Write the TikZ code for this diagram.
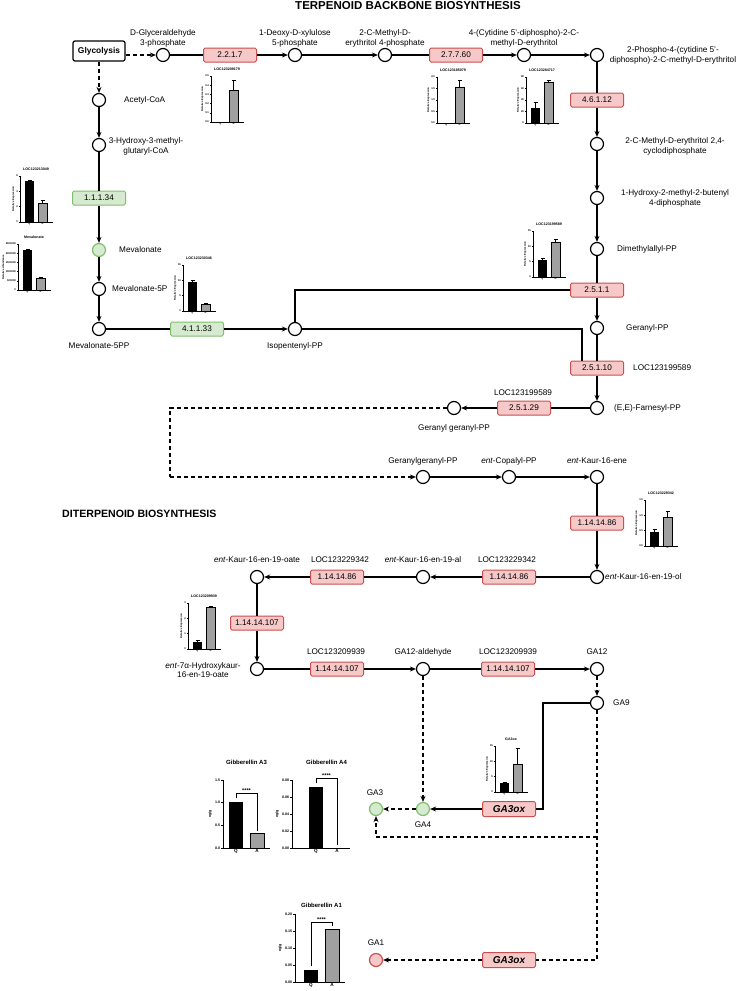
\documentclass[tikz,border=0pt]{standalone}
\usepackage{fontspec}
\setmainfont{Liberation Sans}
\usetikzlibrary{arrows.meta,positioning}
\definecolor{ecfill}{RGB}{246,200,200}
\definecolor{ecdraw}{RGB}{200,80,80}
\definecolor{gfill}{RGB}{214,234,208}
\definecolor{gdraw}{RGB}{130,190,110}
\definecolor{bargray}{RGB}{160,160,160}
\newcommand{\lbfont}{\fontsize{8.2}{9.8}\selectfont}
% small expression chart: x, y (axis origin), title, Q, Q err, A, A err, ticks, y label
\newcommand{\expchart}[9]{%
  \begin{scope}[shift={(#1,#2)}]
    \node[charttitle] at (16,-53) {#3};
    \fill (5,0) rectangle (14,{-46*#4});
    \draw[line width=.4pt] (9.5,{-46*#4}) -- (9.5,{-46*(#4+#5)}) ++(-2,0) -- ++(4,0);
    \filldraw[fill=bargray, line width=.6pt] (18,0) rectangle (27,{-46*#6});
    \draw[line width=.4pt] (22.5,{-46*#6}) -- (22.5,{-46*(#6+#7)}) ++(-2,0) -- ++(4,0);
    \draw[line width=.6pt] (0,-46) -- (0,0) -- (33,0);
    \foreach \f/\t in {#8}
      \draw[line width=.4pt] (0,{-46*\f}) -- (-1.5,{-46*\f}) node[ticklbl, left] (tk) {\t};
    \path (tk.west) ++(-0.5,0) coordinate (yl);
    \node[ticklbl, rotate=90, anchor=south] at (yl |- 0,-23) {#9};
    \node[ticklbl, below] at (9.5,0.3) {Q};
    \node[ticklbl, below] at (22.5,0.3) {A};
  \end{scope}}
% hormone chart: x, y, title, Q, A, bracket, ticks, title gap, bar offset
\newcommand{\gachart}[9]{%
  \begin{scope}[shift={(#1,#2)}]
    \node[gatitle] at ({#9+17.5},{-68-#8}) {#3};
    \fill (#9,0) rectangle ({#9+14},{-68*#4});
    \filldraw[fill=bargray, line width=.8pt] ({#9+21},0) rectangle ({#9+35},{-68*#5});
    \draw[line width=.7pt] ({#9+7},{-68*(#4+0.05)}) -- ({#9+7},{-68*#6}) -- ({#9+28},{-68*#6}) -- ({#9+28},{-68*(#5+0.04)});
    \node[gastars, anchor=south] at ({#9+17.5},{-68*#6}) {****};
    \draw[line width=.9pt] (0,-68) -- (0,0) -- ({#9+41},0);
    \foreach \f/\t in {#7}
      \draw[line width=.6pt] (0,{-68*\f}) -- (-2,{-68*\f}) node[gatick, left] (tk) {\t};
    \path (tk.west) ++(-1.5,0) coordinate (yl);
    \node[gatick, rotate=90, anchor=south] at (yl |- 0,-34) {ng/g};
    \node[gaq, below] at ({#9+7},0.5) {Q};
    \node[gaq, below] at ({#9+28},0.5) {A};
  \end{scope}}
\begin{document}
\begin{tikzpicture}[x=1pt, y=-1pt,
  met/.style={circle, draw, line width=1.2pt, minimum size=13pt, inner sep=0pt, fill=white},
  metg/.style={met, draw=gdraw, fill=gfill},
  metr/.style={met, draw=ecdraw, fill=ecfill},
  ec/.style={draw=ecdraw, fill=ecfill, line width=1pt, rounded corners=1.5pt, minimum width=53pt, minimum height=14pt, inner sep=1pt, font=\lbfont},
  ecg/.style={ec, draw=gdraw, fill=gfill},
  gene/.style={ec, minimum height=15pt, font=\fontsize{10}{12}\selectfont\bfseries\itshape},
  lbl/.style={font=\lbfont, inner sep=1pt, align=center},
  heading/.style={font=\fontsize{11.5}{13}\selectfont\bfseries, inner sep=0pt},
  flow/.style={line width=1.1pt, -{Stealth[length=6pt,width=5pt]}},
  link/.style={line width=1.1pt},
  dflow/.style={flow, dash pattern=on 4pt off 3pt},
  dlink/.style={link, dash pattern=on 4pt off 3pt},
  charttitle/.style={font=\fontsize{3.6}{4}\selectfont\bfseries, inner sep=0pt},
  ticklbl/.style={font=\fontsize{2.6}{3}\selectfont\bfseries, inner sep=0.4pt},
  gatitle/.style={font=\fontsize{6}{7}\selectfont\bfseries, inner sep=0pt},
  gatick/.style={font=\fontsize{3.6}{4}\selectfont\bfseries, inner sep=0.6pt},
  gaq/.style={font=\fontsize{4.6}{5}\selectfont\bfseries, inner sep=0.6pt},
  gastars/.style={font=\fontsize{5.5}{6}\selectfont\bfseries, inner sep=0.5pt}]
\useasboundingbox (0,0) rectangle (740,991);
\fill[white] (0,0) rectangle (740,991);

\node[heading] (ttop) at (408,6) {TERPENOID BACKBONE BIOSYNTHESIS};
\node[heading, font=\fontsize{10.6}{12}\selectfont\bfseries, anchor=west] (tdit) at (62,514) {DITERPENOID BIOSYNTHESIS};

% backbone, top row
\node[draw, line width=1.2pt, rounded corners=2pt, minimum width=52pt, minimum height=20pt,
  font=\fontsize{8.4}{10}\selectfont\bfseries] (glyc) at (99,51) {Glycolysis};
\node[met] (g3p) at (163,55) {};
\node[met] (dxp) at (295,55) {};
\node[met] (mep) at (385,55) {};
\node[met] (cdpme) at (524,55) {};
\node[met] (cdpmep) at (597,55) {};
\node[met] (mecpp) at (597,144) {};
\node[met] (hmbpp) at (597,198) {};
\node[met] (dmapp) at (597,249) {};
\node[met] (gpp) at (597,328) {};
\node[met] (fpp) at (597,408) {};
\node[met] (ggpp) at (454,408) {};
\node[ec] (e2217) at (230,55) {2.2.1.7};
\node[ec] (e27760) at (456,55) {2.7.7.60};
\node[ec] (e46112) at (597,100) {4.6.1.12};
\node[ec] (e2511) at (597,290) {2.5.1.1};
\node[ec] (e25110) at (597,368) {2.5.1.10};
\node[ec] (e25129) at (524,408) {2.5.1.29};

% mevalonate branch
\node[met] (acoa) at (99,100) {};
\node[met] (hmgcoa) at (99,145) {};
\node[ecg] (e111434) at (99,198) {1.1.1.34};
\node[metg] (mva) at (99,250) {};
\node[met] (mvap) at (99,289) {};
\node[met] (mvapp) at (99,329) {};
\node[ecg] (e41133) at (197,329) {4.1.1.33};
\node[met] (ipp) at (295,329) {};

% diterpenoid part
\node[met] (ggpp2) at (423,477) {};
\node[met] (cpp) at (509,477) {};
\node[met] (kaurene) at (597,477) {};
\node[ec] (e1141486a) at (597,523) {1.14.14.86};
\node[met] (kaurenol) at (597,577) {};
\node[ec] (e1141486b) at (509,577) {1.14.14.86};
\node[met] (kaurenal) at (423,577) {};
\node[ec] (e1141486c) at (337,577) {1.14.14.86};
\node[met] (kaurenoate) at (257,577) {};
\node[ec] (e11414107a) at (257,623) {1.14.14.107};
\node[met] (hkaurenoate) at (257,669) {};
\node[ec] (e11414107b) at (337,669) {1.14.14.107};
\node[met] (ga12ald) at (423,669) {};
\node[ec] (e11414107c) at (508,669) {1.14.14.107};
\node[met] (ga12) at (597,669) {};
\node[met] (ga9) at (597,703) {};
\node[gene] (ga3oxa) at (509,809) {GA3ox};
\node[metg] (ga4) at (423,809) {};
\node[metg] (ga3) at (376,809) {};
\node[gene] (ga3oxb) at (509,960) {GA3ox};
\node[metr] (ga1) at (376,960) {};
\coordinate (gg1) at (170,408);
\coordinate (gg2) at (170,477);
\coordinate (k1) at (543,703);
\coordinate (k2) at (597,837);

% connectors
\draw[dflow] (glyc.east |- g3p) -- (g3p);
\draw[dflow] (glyc) -- (acoa);
\draw[link] (g3p) -- (e2217);
\draw[flow] (e2217) -- (dxp);
\draw[flow] (dxp) -- (mep);
\draw[link] (mep) -- (e27760);
\draw[flow] (e27760) -- (cdpme);
\draw[flow] (cdpme) -- (cdpmep);
\draw[link] (cdpmep) -- (e46112);
\draw[flow] (e46112) -- (mecpp);
\draw[flow] (mecpp) -- (hmbpp);
\draw[flow] (hmbpp) -- (dmapp);
\draw[link] (dmapp) -- (e2511);
\draw[flow] (e2511) -- (gpp);
\draw[link] (gpp) -- (e25110);
\draw[flow] (e25110) -- (fpp);
\draw[link] (fpp) -- (e25129);
\draw[flow] (e25129) -- (ggpp);
\draw[flow] (acoa) -- (hmgcoa);
\draw[link] (hmgcoa) -- (e111434);
\draw[flow] (e111434) -- (mva);
\draw[flow] (mva) -- (mvap);
\draw[flow] (mvap) -- (mvapp);
\draw[link] (mvapp) -- (e41133);
\draw[flow] (e41133) -- (ipp);
\draw[link] (ipp) |- (e2511);
\draw[link] (ipp) -| ([xshift=-15pt]e25110.north);
\draw[dlink] (ggpp) -- (gg1) -- (gg2);
\draw[dflow] (gg2) -- (ggpp2);
\draw[flow] (ggpp2) -- (cpp);
\draw[flow] (cpp) -- (kaurene);
\draw[link] (kaurene) -- (e1141486a);
\draw[flow] (e1141486a) -- (kaurenol);
\draw[link] (kaurenol) -- (e1141486b);
\draw[flow] (e1141486b) -- (kaurenal);
\draw[link] (kaurenal) -- (e1141486c);
\draw[flow] (e1141486c) -- (kaurenoate);
\draw[link] (kaurenoate) -- (e11414107a);
\draw[flow] (e11414107a) -- (hkaurenoate);
\draw[link] (hkaurenoate) -- (e11414107b);
\draw[flow] (e11414107b) -- (ga12ald);
\draw[link] (ga12ald) -- (e11414107c);
\draw[flow] (e11414107c) -- (ga12);
\draw[dflow] (ga12) -- (ga9);
\draw[dflow] (ga12ald) -- (ga4);
\draw[link] (ga9) -- (k1) |- (ga3oxa.east);
\draw[flow] (ga3oxa) -- (ga4);
\draw[dflow] (ga4) -- (ga3);
\draw[dlink] (ga9) |- (ga3oxb.east);
\draw[dflow] (k2) -| (ga3);
\draw[dflow] (ga3oxb) -- (ga1);

% metabolite names
\node[lbl, above=0pt of g3p] (tg3p) {D-Glyceraldehyde\\3-phosphate};
\node[lbl, above=0pt of dxp] (tdxp) {1-Deoxy-D-xylulose\\5-phosphate};
\node[lbl, above=0pt of mep] (tmep) {2-C-Methyl-D-\\erythritol 4-phosphate};
\node[lbl, above=0pt of cdpme] (tcdpme) {4-(Cytidine 5'-diphospho)-2-C-\\methyl-D-erythritol};
\node[lbl] (tcdpmep) at (673,55.5) {2-Phospho-4-(cytidine 5'-\\diphospho)-2-C-methyl-D-erythritol};
\node[lbl] (tmecpp) at (675,146) {2-C-Methyl-D-erythritol 2,4-\\cyclodiphosphate};
\node[lbl] (thmbpp) at (675,198) {1-Hydroxy-2-methyl-2-butenyl\\4-diphosphate};
\node[lbl, anchor=west] (tdmapp) at (616,249) {Dimethylallyl-PP};
\node[lbl, anchor=west] (tgpp) at (625,328) {Geranyl-PP};
\node[lbl, anchor=west] (tloc1) at (632,368) {LOC123199589};
\node[lbl, anchor=west] (tfpp) at (613,408) {(E,E)-Farnesyl-PP};
\node[lbl] (tloc2) at (523,393) {LOC123199589};
\node[lbl] (tggpp) at (454,428) {Geranyl geranyl-PP};
\node[lbl, anchor=west] (tacoa) at (123,100) {Acetyl-CoA};
\node[lbl] (thmgcoa) at (146,146) {3-Hydroxy-3-methyl-\\glutaryl-CoA};
\node[lbl, anchor=west] (tmva) at (118,250) {Mevalonate};
\node[lbl, anchor=west] (tmvap) at (111,289) {Mevalonate-5P};
\node[lbl] (tmvapp) at (99,346) {Mevalonate-5PP};
\node[lbl] (tipp) at (295,346) {Isopentenyl-PP};
\node[lbl] (tggpp2) at (423,461) {Geranylgeranyl-PP};
\node[lbl] (tcpp) at (509,461) {\textit{ent}-Copalyl-PP};
\node[lbl] (tkaurene) at (597,461) {\textit{ent}-Kaur-16-ene};
\node[lbl, anchor=west] (tkaurenol) at (604,577) {\textit{ent}-Kaur-16-en-19-ol};
\node[lbl] (tkaurenal) at (423,560) {\textit{ent}-Kaur-16-en-19-al};
\node[lbl] (tloc3) at (507,560) {LOC123229342};
\node[lbl] (tloc4) at (340,560) {LOC123229342};
\node[lbl] (tkaurenoate) at (257,560) {\textit{ent}-Kaur-16-en-19-oate};
\node[lbl] (thkaurenoate) at (203,670) {\textit{ent}-7α-Hydroxykaur-\\16-en-19-oate};
\node[lbl] (tloc5) at (336,652) {LOC123209939};
\node[lbl] (tga12ald) at (423,652) {GA12-aldehyde};
\node[lbl] (tloc6) at (508,652) {LOC123209939};
\node[lbl] (tga12) at (597,652) {GA12};
\node[lbl, anchor=west] (tga9) at (612,703) {GA9};
\node[lbl] (tga4) at (423,825) {GA4};
\node[lbl] (tga3) at (375,793) {GA3};
\node[lbl] (tga1) at (376,943) {GA1};

% expression charts
\expchart{211}{122}{LOC123209179}{0}{0}{0.69}{0.22}{0/0.0,0.2/0.1,0.4/0.2,0.6/0.3,0.8/0.4,1/0.5}{Relative Expression}
\expchart{437}{123}{LOC123185079}{0}{0}{0.77}{0.17}{0/0.0,0.25/0.5,0.5/1.0,0.75/1.5,1/2.0}{Relative Expression}
\expchart{526}{123}{LOC123284717}{0.33}{0.13}{0.89}{0.04}{0/0,0.25/20,0.5/40,0.75/60,1/80}{Relative Expression}
\expchart{533}{277}{LOC123199589}{0.37}{0.04}{0.76}{0.07}{0/0,0.333/5,0.667/10,1/15}{Relative Expression}
\expchart{20}{222}{LOC123213049}{0.9}{0.01}{0.4}{0.08}{0/0,0.333/2,0.667/4,1/6}{Relative Expression}
\expchart{18}{290}{Mevalonate}{0.87}{0.01}{0.26}{0.01}{0/0,0.2/500000,0.4/1000000,0.6/1500000,0.8/2000000,1/2500000}{Relative Abundance}
\expchart{183}{311}{LOC123230346}{0.64}{0.02}{0.15}{0.02}{0/0,0.333/5,0.667/10,1/15}{Relative Expression}
\expchart{645}{546}{LOC123229342}{0.3}{0.07}{0.63}{0.13}{0/0.0,0.333/0.5,0.667/1.0,1/1.5}{Relative Expression}
\expchart{188}{649}{LOC123209939}{0.15}{0.05}{0.91}{0.01}{0/0,0.333/1,0.667/2,1/3}{Relative Expression}
\expchart{495}{792}{GA3ox}{0.2}{0.01}{0.61}{0.35}{0/0,0.333/5,0.667/10,1/15}{Relative Expression}

% hormone levels
\gachart{223}{848}{Gibberellin A3}{0.68}{0.21}{0.81}{0/0.0,0.333/0.5,0.667/1.0,1/1.5}{18}{6}
\gachart{292}{848}{Gibberellin A4}{0.9}{0}{1.03}{0/0.00,0.25/0.02,0.5/0.04,0.75/0.06,1/0.08}{18}{17}
\gachart{295}{982}{Gibberellin A1}{0.18}{0.78}{0.88}{0/0.00,0.25/0.05,0.5/0.10,0.75/0.15,1/0.20}{9}{9}
\end{tikzpicture}
\end{document}
